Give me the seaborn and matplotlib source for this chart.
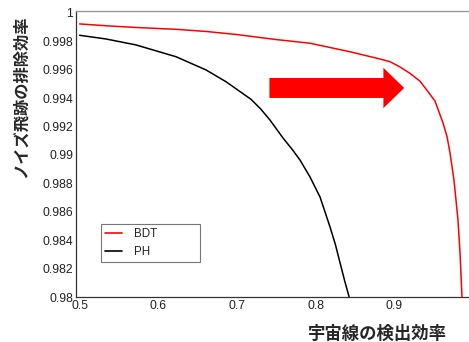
import numpy as np
import pandas as pd
import matplotlib
matplotlib.use("Agg")
import matplotlib.pyplot as plt
import seaborn as sns
from matplotlib.ticker import MultipleLocator, FuncFormatter

# ---- data ----
bdt_x = [0.5, 0.5335, 0.5717, 0.6225, 0.6606, 0.7000, 0.7496, 0.7928, 0.8436, 0.8817,
         0.8944, 0.9071, 0.9198, 0.9325, 0.9427, 0.9516, 0.9618, 0.9669, 0.9707, 0.9757,
         0.9808, 0.9834, 0.9859]
bdt_y = [0.99923, 0.99910, 0.99898, 0.99885, 0.99870, 0.99848, 0.99813, 0.99787, 0.99727, 0.99676,
         0.99657, 0.99620, 0.99575, 0.99520, 0.99446, 0.99380, 0.99225, 0.99129, 0.99014, 0.98824,
         0.98542, 0.98310, 0.98000]
ph_x = [0.5, 0.5335, 0.5717, 0.6225, 0.6606, 0.6860, 0.7178, 0.7300, 0.7419, 0.7584,
        0.7700, 0.7800, 0.7928, 0.8055, 0.8182, 0.8250, 0.8310, 0.8370, 0.8411, 0.8424]
ph_y = [0.99843, 0.99817, 0.99775, 0.99692, 0.99599, 0.99516, 0.99392, 0.99325, 0.99246, 0.99120,
        0.99040, 0.98965, 0.98845, 0.98704, 0.98493, 0.98370, 0.98239, 0.98110, 0.98028, 0.98000]
series_names = ["BDT", "PH"]
series_colors = ["#ff0000", "#000000"]
x_label = "宇宙線の検出効率"
y_label = "ノイズ飛跡の排除効率"

df = pd.concat([
    pd.DataFrame({"x": bdt_x, "y": bdt_y, "method": series_names[0]}),
    pd.DataFrame({"x": ph_x, "y": ph_y, "method": series_names[1]}),
])

sns.set_style("white")
plt.rcParams["font.family"] = ["Liberation Sans", "Noto Sans CJK JP", "DejaVu Sans"]

fig = plt.figure(figsize=(4.69, 3.42), dpi=100)
W, H = 469, 342
ax = fig.add_axes([76 / W, (H - 297) / H, (W - 76) / W, (297 - 11) / H])

sns.lineplot(data=df, x="x", y="y", hue="method", palette=dict(zip(series_names, series_colors)),
             estimator=None, sort=False, linewidth=1.1, ax=ax)
for ln in ax.get_lines():
    ln.set_solid_joinstyle("round")

ax.set_xlim(0.4954, 0.9948)
ax.set_ylim(0.98, 1.00014)

ax.xaxis.set_major_locator(MultipleLocator(0.1))
ax.xaxis.set_minor_locator(MultipleLocator(0.02))
ax.yaxis.set_major_locator(MultipleLocator(0.002))
ax.yaxis.set_minor_locator(MultipleLocator(0.0004))
ax.xaxis.set_major_formatter(FuncFormatter(lambda v, p: f"{v:g}"))
ax.yaxis.set_major_formatter(FuncFormatter(lambda v, p: f"{round(v, 4):g}"))

ax.tick_params(axis="both", which="both", direction="in", colors="#333333",
               labelcolor="#222222", labelsize=8.7, width=0.8)
ax.tick_params(axis="both", which="major", length=7)
ax.tick_params(axis="both", which="minor", length=3.5)
ax.tick_params(axis="x", pad=2)
ax.tick_params(axis="y", pad=2)
ax.tick_params(top=False, right=False, which="both")
for s in ["left", "bottom"]:
    ax.spines[s].set_color("#333333")
    ax.spines[s].set_linewidth(0.9)
ax.spines["top"].set_color("#999999")
ax.spines["top"].set_linewidth(1.0)
ax.spines["right"].set_visible(False)

ax.set_xlabel(x_label, loc="right", fontsize=12.5, fontweight="bold",
              family=["Noto Sans CJK JP", "DejaVu Sans"])
ax.xaxis.set_label_coords(0.944, -0.098)
ax.set_ylabel(y_label, loc="top", fontsize=11.7, fontweight="bold",
              family=["Noto Sans CJK JP", "DejaVu Sans"])
ax.yaxis.set_label_coords(-0.12, 0.986)

# arrow annotation
ax.annotate("", xy=(0.9125, 0.99472), xytext=(0.7412, 0.99472),
            arrowprops=dict(arrowstyle="simple,head_length=15,head_width=29,tail_width=14.4",
                            mutation_scale=1, color="#ff0000", shrinkA=0, shrinkB=0, lw=0))

leg = ax.legend(loc="lower left", bbox_to_anchor=(0.0628, 0.1234, 0.2527, 0.128), mode="expand",
                frameon=True, fancybox=False, fontsize=8.3, handlelength=1.5, handletextpad=1.0,
                borderpad=0.35, labelspacing=0.45, borderaxespad=0)
leg.get_frame().set_edgecolor("#555555")
leg.get_frame().set_linewidth(0.8)
for line in leg.get_lines():
    line.set_linewidth(1.2)
for t in leg.get_texts():
    t.set_color("#222222")

fig.savefig("out.png", dpi=100)
